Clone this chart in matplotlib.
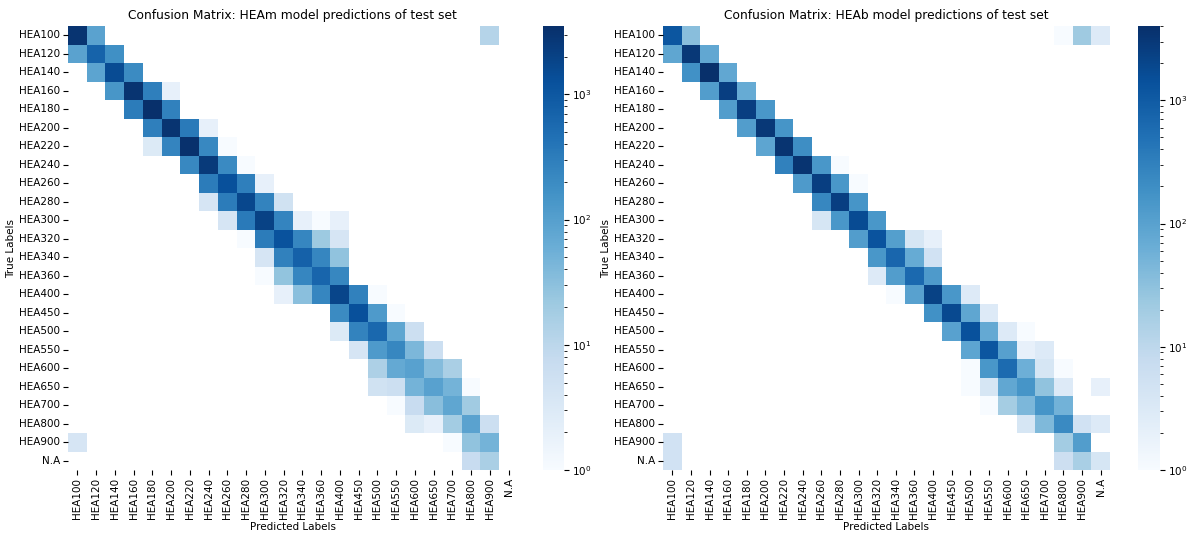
import numpy as np
import matplotlib
matplotlib.use("Agg")
import matplotlib.pyplot as plt
import seaborn as sns
from matplotlib.colors import LogNorm

labels = ["HEA100", "HEA120", "HEA140", "HEA160", "HEA180", "HEA200", "HEA220", "HEA240",
          "HEA260", "HEA280", "HEA300", "HEA320", "HEA340", "HEA360", "HEA400", "HEA450",
          "HEA500", "HEA550", "HEA600", "HEA650", "HEA700", "HEA800", "HEA900", "N.A"]

# counts (rows = true, cols = predicted)
cm_heam = [
    [3000, 90, 0, 0, 0, 0, 0, 0, 0, 0, 0, 0, 0, 0, 0, 0, 0, 0, 0, 0, 0, 0, 12, 0],
    [90, 700, 170, 0, 0, 0, 0, 0, 0, 0, 0, 0, 0, 0, 0, 0, 0, 0, 0, 0, 0, 0, 0, 0],
    [0, 85, 1500, 200, 0, 0, 0, 0, 0, 0, 0, 0, 0, 0, 0, 0, 0, 0, 0, 0, 0, 0, 0, 0],
    [0, 0, 140, 3000, 300, 2, 0, 0, 0, 0, 0, 0, 0, 0, 0, 0, 0, 0, 0, 0, 0, 0, 0, 0],
    [0, 0, 0, 330, 3500, 280, 0, 0, 0, 0, 0, 0, 0, 0, 0, 0, 0, 0, 0, 0, 0, 0, 0, 0],
    [0, 0, 0, 0, 300, 3000, 350, 2, 0, 0, 0, 0, 0, 0, 0, 0, 0, 0, 0, 0, 0, 0, 0, 0],
    [0, 0, 0, 0, 3, 250, 3300, 220, 1, 0, 0, 0, 0, 0, 0, 0, 0, 0, 0, 0, 0, 0, 0, 0],
    [0, 0, 0, 0, 0, 0, 220, 2500, 210, 1, 0, 0, 0, 0, 0, 0, 0, 0, 0, 0, 0, 0, 0, 0],
    [0, 0, 0, 0, 0, 0, 0, 330, 1300, 300, 2, 0, 0, 0, 0, 0, 0, 0, 0, 0, 0, 0, 0, 0],
    [0, 0, 0, 0, 0, 0, 0, 4, 330, 1700, 260, 5, 0, 0, 0, 0, 0, 0, 0, 0, 0, 0, 0, 0],
    [0, 0, 0, 0, 0, 0, 0, 0, 4, 350, 2000, 250, 2, 1, 2, 0, 0, 0, 0, 0, 0, 0, 0, 0],
    [0, 0, 0, 0, 0, 0, 0, 0, 0, 1, 330, 1200, 240, 22, 4, 0, 0, 0, 0, 0, 0, 0, 0, 0],
    [0, 0, 0, 0, 0, 0, 0, 0, 0, 0, 4, 280, 750, 240, 28, 0, 0, 0, 0, 0, 0, 0, 0, 0],
    [0, 0, 0, 0, 0, 0, 0, 0, 0, 0, 1, 27, 240, 650, 230, 0, 0, 0, 0, 0, 0, 0, 0, 0],
    [0, 0, 0, 0, 0, 0, 0, 0, 0, 0, 0, 2, 32, 240, 1800, 280, 1, 0, 0, 0, 0, 0, 0, 0],
    [0, 0, 0, 0, 0, 0, 0, 0, 0, 0, 0, 0, 0, 0, 200, 1300, 120, 1, 0, 0, 0, 0, 0, 0],
    [0, 0, 0, 0, 0, 0, 0, 0, 0, 0, 0, 0, 0, 0, 3, 260, 600, 80, 6, 0, 0, 0, 0, 0],
    [0, 0, 0, 0, 0, 0, 0, 0, 0, 0, 0, 0, 0, 0, 0, 4, 120, 230, 42, 6, 0, 0, 0, 0],
    [0, 0, 0, 0, 0, 0, 0, 0, 0, 0, 0, 0, 0, 0, 0, 0, 15, 70, 95, 35, 16, 0, 0, 0],
    [0, 0, 0, 0, 0, 0, 0, 0, 0, 0, 0, 0, 0, 0, 0, 0, 5, 6, 50, 95, 50, 1, 0, 0],
    [0, 0, 0, 0, 0, 0, 0, 0, 0, 0, 0, 0, 0, 0, 0, 0, 0, 1, 7, 33, 80, 20, 0, 0],
    [0, 0, 0, 0, 0, 0, 0, 0, 0, 0, 0, 0, 0, 0, 0, 0, 0, 0, 3, 2, 19, 90, 6, 0],
    [4, 0, 0, 0, 0, 0, 0, 0, 0, 0, 0, 0, 0, 0, 0, 0, 0, 0, 0, 0, 1, 28, 50, 0],
    [0, 0, 0, 0, 0, 0, 0, 0, 0, 0, 0, 0, 0, 0, 0, 0, 0, 0, 0, 0, 0, 7, 16, 0],
]

cm_heab = [
    [1200, 35, 0, 0, 0, 0, 0, 0, 0, 0, 0, 0, 0, 0, 0, 0, 0, 0, 0, 0, 0, 1, 22, 3],
    [85, 3000, 80, 0, 0, 0, 0, 0, 0, 0, 0, 0, 0, 0, 0, 0, 0, 0, 0, 0, 0, 0, 0, 0],
    [0, 180, 4000, 80, 0, 0, 0, 0, 0, 0, 0, 0, 0, 0, 0, 0, 0, 0, 0, 0, 0, 0, 0, 0],
    [0, 0, 120, 2500, 70, 0, 0, 0, 0, 0, 0, 0, 0, 0, 0, 0, 0, 0, 0, 0, 0, 0, 0, 0],
    [0, 0, 0, 120, 2500, 150, 0, 0, 0, 0, 0, 0, 0, 0, 0, 0, 0, 0, 0, 0, 0, 0, 0, 0],
    [0, 0, 0, 0, 120, 3000, 160, 0, 0, 0, 0, 0, 0, 0, 0, 0, 0, 0, 0, 0, 0, 0, 0, 0],
    [0, 0, 0, 0, 0, 90, 3500, 200, 0, 0, 0, 0, 0, 0, 0, 0, 0, 0, 0, 0, 0, 0, 0, 0],
    [0, 0, 0, 0, 0, 0, 300, 3500, 150, 1, 0, 0, 0, 0, 0, 0, 0, 0, 0, 0, 0, 0, 0, 0],
    [0, 0, 0, 0, 0, 0, 0, 130, 2500, 150, 1, 0, 0, 0, 0, 0, 0, 0, 0, 0, 0, 0, 0, 0],
    [0, 0, 0, 0, 0, 0, 0, 0, 250, 2500, 160, 0, 0, 0, 0, 0, 0, 0, 0, 0, 0, 0, 0, 0],
    [0, 0, 0, 0, 0, 0, 0, 0, 4, 150, 1700, 150, 0, 0, 0, 0, 0, 0, 0, 0, 0, 0, 0, 0],
    [0, 0, 0, 0, 0, 0, 0, 0, 0, 0, 120, 1300, 110, 4, 2, 0, 0, 0, 0, 0, 0, 0, 0, 0],
    [0, 0, 0, 0, 0, 0, 0, 0, 0, 0, 0, 150, 700, 70, 5, 0, 0, 0, 0, 0, 0, 0, 0, 0],
    [0, 0, 0, 0, 0, 0, 0, 0, 0, 0, 0, 3, 120, 650, 130, 0, 0, 0, 0, 0, 0, 0, 0, 0],
    [0, 0, 0, 0, 0, 0, 0, 0, 0, 0, 0, 0, 1, 100, 2300, 150, 3, 0, 0, 0, 0, 0, 0, 0],
    [0, 0, 0, 0, 0, 0, 0, 0, 0, 0, 0, 0, 0, 0, 180, 1800, 85, 3, 0, 0, 0, 0, 0, 0],
    [0, 0, 0, 0, 0, 0, 0, 0, 0, 0, 0, 0, 0, 0, 0, 100, 1400, 75, 3, 1, 0, 0, 0, 0],
    [0, 0, 0, 0, 0, 0, 0, 0, 0, 0, 0, 0, 0, 0, 0, 0, 90, 1200, 105, 2, 3, 0, 0, 0],
    [0, 0, 0, 0, 0, 0, 0, 0, 0, 0, 0, 0, 0, 0, 0, 0, 1, 150, 600, 60, 4, 1, 0, 0],
    [0, 0, 0, 0, 0, 0, 0, 0, 0, 0, 0, 0, 0, 0, 0, 0, 1, 4, 80, 160, 30, 3, 0, 2],
    [0, 0, 0, 0, 0, 0, 0, 0, 0, 0, 0, 0, 0, 0, 0, 0, 0, 1, 19, 45, 160, 55, 0, 0],
    [0, 0, 0, 0, 0, 0, 0, 0, 0, 0, 0, 0, 0, 0, 0, 0, 0, 0, 0, 4, 42, 230, 5, 3],
    [5, 0, 0, 0, 0, 0, 0, 0, 0, 0, 0, 0, 0, 0, 0, 0, 0, 0, 0, 0, 0, 20, 120, 0],
    [5, 0, 0, 0, 0, 0, 0, 0, 0, 0, 0, 0, 0, 0, 0, 0, 0, 0, 0, 0, 0, 6, 17, 4],
]

fig = plt.figure(figsize=(11.92, 5.33), dpi=100)

panels = [
    (cm_heam, "Confusion Matrix: HEAm model predictions of test set",
     [0.057, 0.118, 0.3775, 0.833], [0.4555, 0.118, 0.0176, 0.833]),
    (cm_heab, "Confusion Matrix: HEAb model predictions of test set",
     [0.5562, 0.118, 0.375, 0.833], [0.9547, 0.118, 0.0185, 0.833]),
]

for cm, title, pos, cpos in panels:
    cm = np.array(cm, dtype=float)
    ax = fig.add_axes(pos)
    cax = fig.add_axes(cpos)
    sns.heatmap(cm, ax=ax, cbar_ax=cax, cmap="Blues", mask=(cm == 0),
                norm=LogNorm(vmin=1, vmax=cm.max()),
                xticklabels=labels, yticklabels=labels)
    ax.set_title(title, fontsize=8.8, pad=5)
    ax.set_xlabel("Predicted Labels", fontsize=7.5, labelpad=2)
    ax.set_ylabel("True Labels", fontsize=7.5, labelpad=2)
    ax.tick_params(axis="x", labelrotation=90, labelsize=7.5, pad=2)
    ax.tick_params(axis="y", labelrotation=0, labelsize=7.5, pad=2)
    cax.tick_params(labelsize=7.5, pad=2)

fig.savefig("out.png", dpi=100)
